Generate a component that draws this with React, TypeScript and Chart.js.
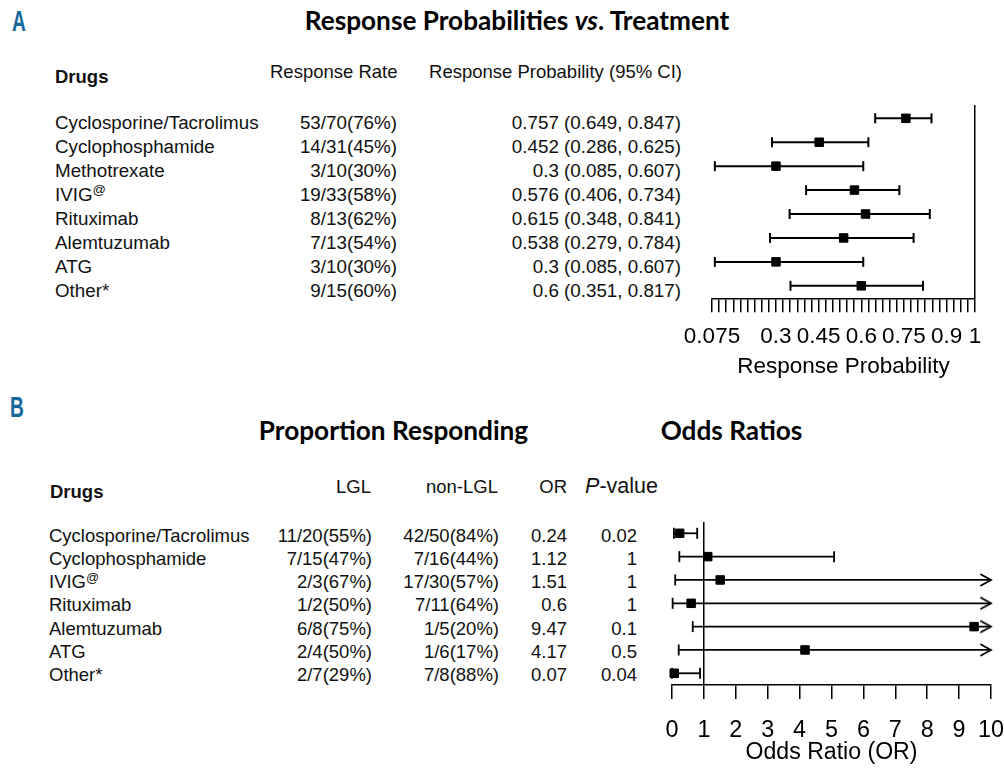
import React, { useEffect, useRef } from "react";
import { Chart, registerables } from "chart.js";

Chart.register(...registerables);

// ---------------- Panel A data ----------------
const drugsA = [
  "Cyclosporine/Tacrolimus",
  "Cyclophosphamide",
  "Methotrexate",
  "IVIG@",
  "Rituximab",
  "Alemtuzumab",
  "ATG",
  "Other*",
];
const responseRateA = [
  "53/70(76%)",
  "14/31(45%)",
  "3/10(30%)",
  "19/33(58%)",
  "8/13(62%)",
  "7/13(54%)",
  "3/10(30%)",
  "9/15(60%)",
];
const probA = [0.757, 0.452, 0.3, 0.576, 0.615, 0.538, 0.3, 0.6];
const lowA = [0.649, 0.286, 0.085, 0.406, 0.348, 0.279, 0.085, 0.351];
const highA = [0.847, 0.625, 0.607, 0.734, 0.841, 0.784, 0.607, 0.817];
const axisMinA = 0.075;
const axisMaxA = 1;
const minorStepA = 0.025;
const tickLabelsA = [0.075, 0.3, 0.45, 0.6, 0.75, 0.9, 1];

// ---------------- Panel B data ----------------
const drugsB = [
  "Cyclosporine/Tacrolimus",
  "Cyclophosphamide",
  "IVIG@",
  "Rituximab",
  "Alemtuzumab",
  "ATG",
  "Other*",
];
const lglB = ["11/20(55%)", "7/15(47%)", "2/3(67%)", "1/2(50%)", "6/8(75%)", "2/4(50%)", "2/7(29%)"];
const nonLglB = ["42/50(84%)", "7/16(44%)", "17/30(57%)", "7/11(64%)", "1/5(20%)", "1/6(17%)", "7/8(88%)"];
const orB = [0.24, 1.12, 1.51, 0.6, 9.47, 4.17, 0.07];
const pValueB = ["0.02", "1", "1", "1", "0.1", "0.5", "0.04"];
const ciLowB = [0.06, 0.23, 0.1, 0.02, 0.65, 0.21, 0.0];
// null = upper limit beyond the axis (drawn as arrow)
const ciHighB: (number | null)[] = [0.79, 5.08, null, null, null, null, 0.88];
const axisMinB = 0;
const axisMaxB = 10;

// ---------------- styling ----------------
const FONT = '"Liberation Sans", Arial, Helvetica, sans-serif';
const TITLE_FONT = 'Lato, "Open Sans", sans-serif';
const TEXT = "#111";
const LABEL_BLUE = "#16699a";

function Txt(props: {
  x: number;
  y: number;
  align?: "left" | "right" | "center";
  bold?: boolean;
  size?: number;
  family?: string;
  color?: string;
  children: any;
  style?: any;
}) {
  const { x, y, align = "left", bold, size = 18.5, family = FONT, color = TEXT, children, style } = props;
  const h = 30;
  const s: any = {
    position: "absolute",
    top: y - h / 2,
    height: h,
    lineHeight: h + "px",
    whiteSpace: "nowrap",
    fontFamily: family,
    fontSize: size,
    fontWeight: bold ? 700 : 400,
    color,
  };
  if (align === "right") s.right = 1004 - x;
  else if (align === "center") {
    s.left = x - 400;
    s.width = 800;
    s.textAlign = "center";
  } else s.left = x;
  return <div style={{ ...s, ...(style || {}) }}>{children}</div>;
}

function DrugName({ name }: { name: string }) {
  const sup = name.endsWith("@");
  return (
    <>
      {sup ? name.slice(0, -1) : name}
      {sup && (
        <sup style={{ fontSize: "0.7em", lineHeight: 0, verticalAlign: "0.5em" }}>@</sup>
      )}
    </>
  );
}

function makeArrow(): HTMLCanvasElement {
  const c = document.createElement("canvas");
  c.width = 26;
  c.height = 16;
  const g = c.getContext("2d")!;
  g.strokeStyle = "#000";
  g.lineWidth = 1.8;
  g.lineCap = "round";
  g.beginPath();
  g.moveTo(3, 2.5);
  g.lineTo(13, 8);
  g.lineTo(3, 13.5);
  g.stroke();
  return c;
}

function ForestA() {
  const ref = useRef<HTMLCanvasElement>(null);
  useEffect(() => {
    const ciSets: any[] = probA.map((_, i) => ({
      type: "line",
      showLine: true,
      data: [
        { x: lowA[i], y: i },
        { x: highA[i], y: i },
      ],
      borderColor: "#000",
      borderWidth: 2,
      pointStyle: "line",
      pointRotation: 90,
      pointRadius: 5,
      pointBorderWidth: 2,
      pointBorderColor: "#000",
      pointBackgroundColor: "#000",
      clip: false,
      order: 2,
    }));
    const points: any = {
      type: "scatter",
      data: probA.map((v, i) => ({ x: v, y: i })),
      pointStyle: "rect",
      pointRadius: 6,
      pointBackgroundColor: "#000",
      pointBorderColor: "#000",
      pointBorderWidth: 1,
      clip: false,
      order: 1,
    };
    const nSteps = Math.round((axisMaxA - axisMinA) / minorStepA);
    const chart = new Chart(ref.current!, {
      type: "scatter",
      data: { datasets: [points, ...ciSets] },
      options: {
        animation: false,
        responsive: false,
        maintainAspectRatio: false,
        events: [],
        layout: { padding: { left: 72, right: 29, top: 10, bottom: 7.25 } },
        plugins: { legend: { display: false }, tooltip: { enabled: false } },
        scales: {
          x: {
            type: "linear",
            position: "bottom",
            min: axisMinA,
            max: axisMaxA,
            afterBuildTicks: (scale: any) => {
              const t = [];
              for (let k = 0; k <= nSteps; k++) {
                t.push({ value: +(axisMinA + k * minorStepA).toFixed(4) });
              }
              scale.ticks = t;
            },
            ticks: {
              autoSkip: false,
              maxRotation: 0,
              minRotation: 0,
              padding: 13.75,
              color: "#000",
              font: { family: FONT, size: 22.5, lineHeight: 1 },
              callback: (v: any) => {
                const f = tickLabelsA.find((t) => Math.abs(t - Number(v)) < 1e-6);
                return f === undefined ? "" : String(f);
              },
            },
            grid: {
              color: (ctx: any) =>
                ctx.tick && Math.abs(ctx.tick.value - axisMaxA) < 1e-6 ? "#000" : "rgba(0,0,0,0)",
              lineWidth: 1.5,
              drawTicks: true,
              tickLength: 14,
              tickColor: "#000",
              tickWidth: 1.5,
            },
            border: { display: true, color: "#000", width: 1.5 },
            title: {
              display: true,
              text: "Response Probability",
              color: "#000",
              font: { family: FONT, size: 22.5, lineHeight: 1 },
              padding: { top: -7, bottom: 0 },
            },
          },
          y: { type: "linear", display: false, reverse: true, min: -0.556, max: 7.52 },
        },
      },
    } as any);
    return () => chart.destroy();
  }, []);
  return (
    <canvas
      ref={ref}
      width={364}
      height={290}
      style={{ position: "absolute", left: 640, top: 95, width: 364, height: 290 }}
    />
  );
}

function ForestB() {
  const ref = useRef<HTMLCanvasElement>(null);
  useEffect(() => {
    const arrow = makeArrow();
    const ciSets: any[] = orB.map((_, i) => {
      const open = ciHighB[i] === null;
      return {
        type: "line",
        showLine: true,
        data: [
          { x: ciLowB[i], y: i },
          { x: open ? axisMaxB : (ciHighB[i] as number), y: i },
        ],
        borderColor: "#000",
        borderWidth: 1.8,
        pointStyle: ["line", open ? arrow : "line"],
        pointRotation: [90, open ? 0 : 90],
        pointRadius: [5.5, open ? 8 : 5.5],
        pointBorderWidth: 1.8,
        pointBorderColor: "#000",
        pointBackgroundColor: "#000",
        clip: false,
        order: 2,
      };
    });
    const points: any = {
      type: "scatter",
      data: orB.map((v, i) => ({ x: v, y: i })),
      pointStyle: "rect",
      pointRadius: 6,
      pointBackgroundColor: "#000",
      pointBorderColor: "#000",
      pointBorderWidth: 1,
      clip: false,
      order: 1,
    };
    const chart = new Chart(ref.current!, {
      type: "scatter",
      data: { datasets: [points, ...ciSets] },
      options: {
        animation: false,
        responsive: false,
        maintainAspectRatio: false,
        events: [],
        layout: { padding: { left: 32, right: 39, top: 17, bottom: 3.45 } },
        plugins: { legend: { display: false }, tooltip: { enabled: false } },
        scales: {
          x: {
            type: "linear",
            position: "bottom",
            min: axisMinB,
            max: axisMaxB,
            ticks: {
              stepSize: 1,
              autoSkip: false,
              maxRotation: 0,
              minRotation: 0,
              padding: 20.3,
              color: "#000",
              font: { family: FONT, size: 23.4, lineHeight: 1 },
            },
            grid: {
              color: (ctx: any) =>
                ctx.tick && Math.abs(ctx.tick.value - 1) < 1e-6 ? "#000" : "rgba(0,0,0,0)",
              lineWidth: 1.5,
              drawTicks: true,
              tickLength: 14,
              tickColor: "#000",
              tickWidth: 1.5,
            },
            border: { display: true, color: "#000", width: 1.5 },
            title: {
              display: true,
              text: "Odds Ratio (OR)",
              color: "#000",
              font: { family: FONT, size: 23.1, lineHeight: 1 },
              padding: { top: -21.55, bottom: 0 },
            },
          },
          y: { type: "linear", display: false, reverse: true, min: -0.484, max: 6.502 },
        },
      },
    } as any);
    return () => chart.destroy();
  }, []);
  return (
    <canvas
      ref={ref}
      width={390}
      height={263}
      style={{ position: "absolute", left: 640, top: 505, width: 390, height: 263 }}
    />
  );
}

export default function App() {
  const rowA = (i: number) => 123.3 + 23.9 * i;
  const rowB = (i: number) => 535.5 + 23.3 * i;
  return (
    <div
      style={{
        position: "absolute",
        left: 0,
        top: 0,
        width: 1004,
        height: 768,
        overflow: "hidden",
        background: "#fff",
      }}
    >
      {/* Panel A */}
      <Txt
        x={12}
        y={21}
        bold
        size={29}
        color={LABEL_BLUE}
        style={{ transform: "scaleX(0.66)", transformOrigin: "left center" }}
      >
        A
      </Txt>
      <Txt x={517} y={20} align="center" bold size={26.2} family={TITLE_FONT} color="#000">
        Response Probabilities <i>vs</i>. Treatment
      </Txt>
      <Txt x={55} y={77} bold>
        Drugs
      </Txt>
      <Txt x={270} y={72}>
        Response Rate
      </Txt>
      <Txt x={682} y={72} align="right">
        Response Probability (95% CI)
      </Txt>
      {drugsA.map((d, i) => (
        <React.Fragment key={"a" + i}>
          <Txt x={55} y={rowA(i)} size={18.8}>
            <DrugName name={d} />
          </Txt>
          <Txt x={397} y={rowA(i)} align="right" size={18.8}>
            {responseRateA[i]}
          </Txt>
          <Txt x={681} y={rowA(i)} align="right" size={18.8}>
            {`${probA[i]} (${lowA[i]}, ${highA[i]})`}
          </Txt>
        </React.Fragment>
      ))}
      <ForestA />

      {/* Panel B */}
      <Txt
        x={10}
        y={407}
        bold
        size={29}
        color={LABEL_BLUE}
        style={{ transform: "scaleX(0.66)", transformOrigin: "left center" }}
      >
        B
      </Txt>
      <Txt x={393.5} y={430} align="center" bold size={26.2} family={TITLE_FONT} color="#000">
        Proportion Responding
      </Txt>
      <Txt x={731.5} y={430} align="center" bold size={26.2} family={TITLE_FONT} color="#000">
        Odds Ratios
      </Txt>
      <Txt x={50} y={492} bold>
        Drugs
      </Txt>
      <Txt x={371} y={487} align="right">
        LGL
      </Txt>
      <Txt x={498} y={487} align="right">
        non-LGL
      </Txt>
      <Txt x={567} y={487} align="right">
        OR
      </Txt>
      <Txt x={658} y={486} align="right" size={21.5}>
        <i>P</i>-value
      </Txt>
      {drugsB.map((d, i) => (
        <React.Fragment key={"b" + i}>
          <Txt x={49} y={rowB(i)}>
            <DrugName name={d} />
          </Txt>
          <Txt x={372} y={rowB(i)} align="right">
            {lglB[i]}
          </Txt>
          <Txt x={499} y={rowB(i)} align="right">
            {nonLglB[i]}
          </Txt>
          <Txt x={567} y={rowB(i)} align="right">
            {String(orB[i])}
          </Txt>
          <Txt x={637} y={rowB(i)} align="right">
            {pValueB[i]}
          </Txt>
        </React.Fragment>
      ))}
      <ForestB />
    </div>
  );
}
